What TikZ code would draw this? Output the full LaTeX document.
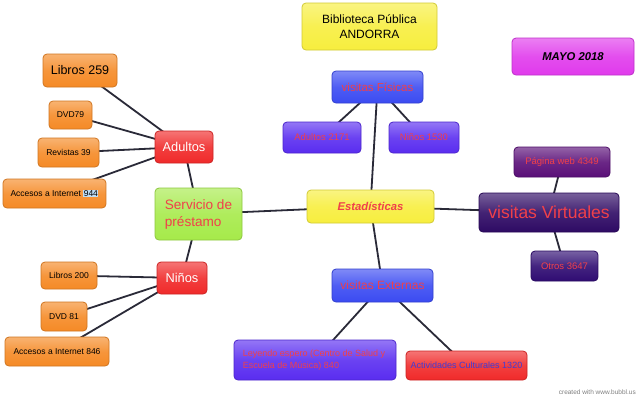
\documentclass[tikz,border=0pt]{standalone}
\usepackage{fontspec}
\setmainfont{Liberation Sans}
\usetikzlibrary{backgrounds}
\definecolor{cyel}{HTML}{F7EE3E}
\definecolor{cmag}{HTML}{E03AEC}
\definecolor{cblue}{HTML}{3B4BF2}
\definecolor{cpurp}{HTML}{5A2DF0}
\definecolor{cred}{HTML}{F02A2A}
\definecolor{cwebp}{HTML}{5A0F78}
\definecolor{cvirt}{HTML}{2E0A64}
\definecolor{cotro}{HTML}{2F0C72}
\definecolor{corg}{HTML}{F58A26}
\definecolor{cgreen}{HTML}{A6EA4A}
\definecolor{tred}{HTML}{F0404A}
\definecolor{tblue}{HTML}{3D3DD8}
\definecolor{lnk}{HTML}{2A2A38}
\tikzset{
  box/.style={rounded corners=4pt, line width=0.8pt, inner sep=0pt, align=center},
  col/.style={box, top color=#1!65!white, bottom color=#1, middle color=#1!90!white, draw=#1!85!black},
  link/.style={draw=lnk, line width=1.8pt},
}
\begin{document}
\begin{tikzpicture}[x=1pt,y=-1pt]
\useasboundingbox (0,0) rectangle (640,400);
% top / right
\node[col=cyel, minimum width=135pt, minimum height=47pt, font=\fontsize{12}{15}\selectfont] (bib) at (369.5,26.5) {Biblioteca Pública\\ANDORRA};
\node[col=cmag, minimum width=122pt, minimum height=37pt, font=\fontsize{11.3}{14}\selectfont\bfseries\itshape] (mayo) at (573,56.5) {MAYO 2018};
\node[col=cblue, minimum width=91pt, minimum height=32pt, text=tred, font=\fontsize{11.5}{14}\selectfont] (fis) at (377.5,87) {visitas Físicas};
\node[col=cpurp, minimum width=78pt, minimum height=31pt, text=tred, font=\fontsize{9.5}{11}\selectfont] (a2171) at (322,137.5) {Adultos 2171};
\node[col=cpurp, minimum width=70pt, minimum height=31pt, text=tred, font=\fontsize{9.5}{11}\selectfont] (n1530) at (424,137.5) {Niños 1530};
\node[col=cyel, minimum width=127pt, minimum height=33pt, text=tred, font=\fontsize{11.3}{14}\selectfont\bfseries\itshape] (est) at (370.5,206.5) {Estadísticas};
\node[col=cblue, minimum width=101pt, minimum height=33pt, text=tred, font=\fontsize{12}{14}\selectfont] (ext) at (382.5,285.5) {visitas Externas};
\node[col=cpurp, minimum width=162pt, minimum height=40pt, text=tred, font=\fontsize{9}{12}\selectfont, align=left] (ley) at (315,360) {Leyendo espero (Centro de Salud y\\Escuela de Música) 840\hspace*{48pt}};
\node[col=cred, minimum width=121pt, minimum height=29pt, text=tblue, font=\fontsize{9}{11}\selectfont] (act) at (466.5,365.5) {Actividades Culturales 1320};
\node[col=cwebp, minimum width=96pt, minimum height=30pt, text=tred, font=\fontsize{9.5}{11}\selectfont] (web) at (562,162) {Página web 4349};
\node[col=cvirt, minimum width=140pt, minimum height=39pt, text=tred, font=\fontsize{17.5}{20}\selectfont] (virt) at (549,212.5) {visitas Virtuales};
\node[col=cotro, minimum width=67pt, minimum height=30pt, text=tred, font=\fontsize{9.5}{11}\selectfont] (otros) at (564.5,266) {Otros 3647};
% left
\node[col=cgreen, minimum width=87pt, minimum height=52pt, text=tred, font=\fontsize{13.6}{17}\selectfont, align=left] (serv) at (198.5,214) {Servicio de\\préstamo};
\node[col=cred, minimum width=58pt, minimum height=32pt, text=white, font=\fontsize{12.8}{15}\selectfont] (adultos) at (184,147) {Adultos};
\node[col=cred, minimum width=50pt, minimum height=32pt, text=white, font=\fontsize{12.8}{15}\selectfont] (ninos) at (182,278) {Niños};
\node[col=corg, minimum width=74pt, minimum height=33pt, font=\fontsize{12.5}{15}\selectfont] (lib259) at (80,70.5) {Libros 259};
\node[col=corg, minimum width=43pt, minimum height=28pt, font=\fontsize{8.5}{10}\selectfont] (dvd79) at (70.5,115) {DVD79};
\node[col=corg, minimum width=61pt, minimum height=29pt, font=\fontsize{8.5}{10}\selectfont] (rev39) at (68.5,152.5) {Revistas 39};
\node[col=corg, minimum width=103pt, minimum height=29pt, font=\fontsize{8.5}{10}\selectfont] (acc944) at (54.5,193.5) {Accesos a Internet {\fboxsep=0.5pt\colorbox[HTML]{BFDDF5}{944}}};
\node[col=corg, minimum width=56pt, minimum height=27pt, font=\fontsize{8.5}{10}\selectfont] (lib200) at (69,275.5) {Libros 200};
\node[col=corg, minimum width=46pt, minimum height=29pt, font=\fontsize{8.5}{10}\selectfont] (dvd81) at (64,316.5) {DVD 81};
\node[col=corg, minimum width=104pt, minimum height=29pt, font=\fontsize{8.5}{10}\selectfont] (acc846) at (57,351.5) {Accesos a Internet 846};
\node[text=gray, font=\fontsize{6.5}{8}\selectfont, anchor=east, inner sep=0pt] (credit) at (636,392) {created with www.bubbl.us};
\begin{scope}[on background layer]
\fill[white] (0,0) rectangle (640,400);
\draw[link] (est.center) -- (serv.center);
\draw[link] (est.center) -- (fis.center);
\draw[link] (est.center) -- (ext.center);
\draw[link] (est.center) -- (virt.center);
\draw[link] (fis.center) -- (a2171.center);
\draw[link] (fis.center) -- (n1530.center);
\draw[link] (ext.center) -- (ley.center);
\draw[link] (ext.center) -- (act.center);
\draw[link] (virt.center) -- (web.center);
\draw[link] (virt.center) -- (otros.center);
\draw[link] (serv.center) -- (adultos.center);
\draw[link] (serv.center) -- (ninos.center);
\draw[link] (adultos.center) -- (lib259.center);
\draw[link] (adultos.center) -- (dvd79.center);
\draw[link] (adultos.center) -- (rev39.center);
\draw[link] (adultos.center) -- (acc944.center);
\draw[link] (ninos.center) -- (lib200.center);
\draw[link] (ninos.center) -- (dvd81.center);
\draw[link] (ninos.center) -- (acc846.center);
\end{scope}
\end{tikzpicture}
\end{document}
